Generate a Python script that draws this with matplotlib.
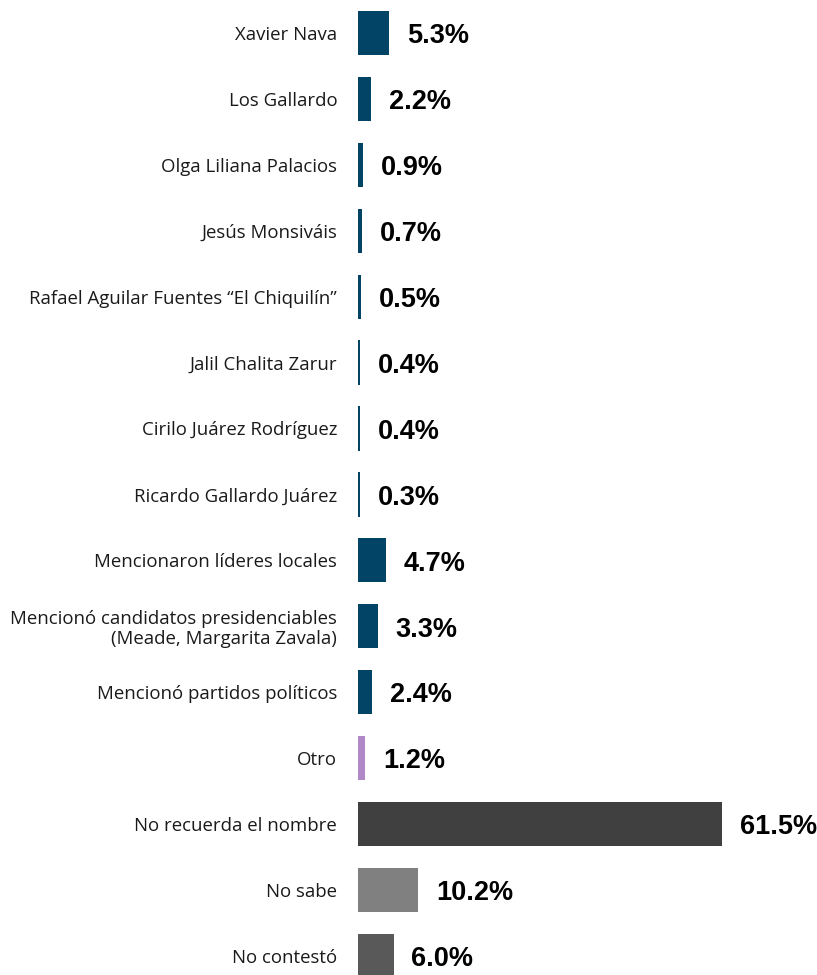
"""
Menciones de nombres: barras horizontales con porcentajes.
"""
import matplotlib
matplotlib.use("Agg")
import matplotlib.pyplot as plt

categorias = [
    "Xavier Nava",
    "Los Gallardo",
    "Olga Liliana Palacios",
    "Jesús Monsiváis",
    "Rafael Aguilar Fuentes \u201cEl Chiquilín\u201d",
    "Jalil Chalita Zarur",
    "Cirilo Juárez Rodríguez",
    "Ricardo Gallardo Juárez",
    "Mencionaron líderes locales",
    "Mencionó candidatos presidenciables\n(Meade, Margarita Zavala)",
    "Mencionó partidos políticos",
    "Otro",
    "No recuerda el nombre",
    "No sabe",
    "No contestó",
]
valores = [5.3, 2.2, 0.9, 0.7, 0.5, 0.4, 0.4, 0.3, 4.7, 3.3, 2.4, 1.2, 61.5, 10.2, 6.0]

azul = "#024466"
colores = [azul] * 11 + ["#b088c8", "#404040", "#808080", "#595959"]


def produce_plot():
    fig = plt.figure(figsize=(8.17, 9.75), dpi=100)
    ax = fig.add_axes([358 / 817, 0, 1 - 358 / 817, 1])

    pos = list(range(len(categorias)))
    ax.barh(pos, valores, height=0.67, color=colores, linewidth=0)

    for y, v in zip(pos, valores):
        ax.text(v + 3.0, y + 0.05, f"{v:.1f}%", va="center", ha="left",
                fontsize=19.5, fontweight="bold", family="Liberation Sans",
                color="black")

    ax.set_xlim(0, 77.5)
    ax.set_ylim(14.29, -0.5)
    ax.set_yticks(pos)
    ax.set_yticklabels(categorias, fontsize=13.4, family="Open Sans",
                       color="#1a1a1a", ha="right", linespacing=1.15)
    ax.tick_params(axis="y", length=0, pad=15)
    ax.set_xticks([])
    for s in ax.spines.values():
        s.set_visible(False)

    fig.savefig("out.png", dpi=100)


if __name__ == "__main__":
    produce_plot()
